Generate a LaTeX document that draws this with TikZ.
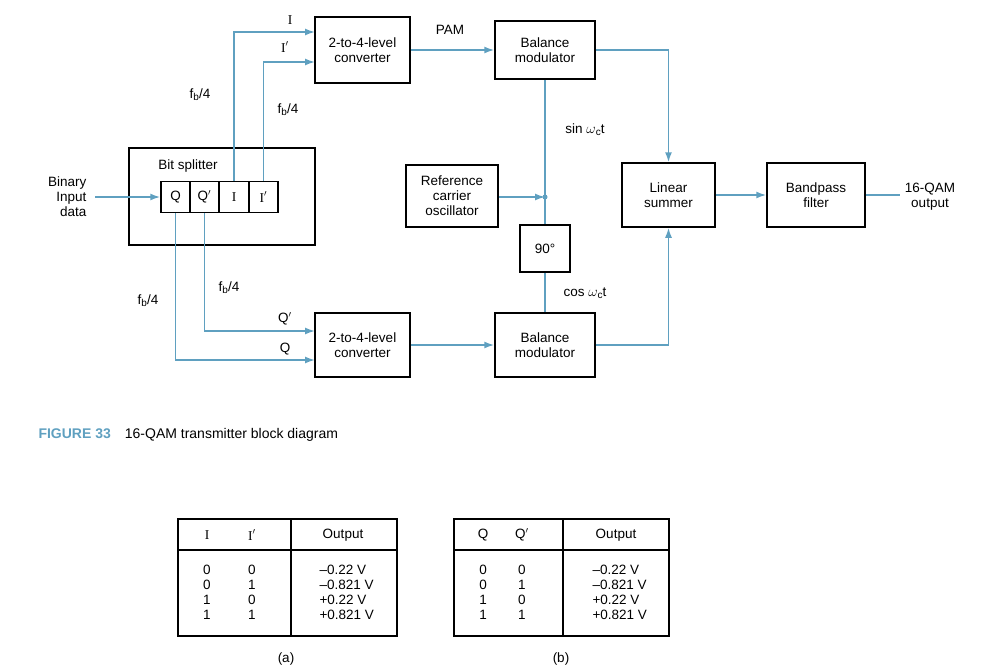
\documentclass[tikz,border=0pt]{standalone}
\usepackage{fontspec}
\setmainfont{Liberation Sans}
\newfontfamily\serf{Liberation Serif}
\usetikzlibrary{arrows.meta}
\definecolor{ln}{RGB}{95,160,192}
\definecolor{cap}{RGB}{95,160,192}
\newcommand{\sbx}[1]{\raisebox{-0.3ex}{\fontsize{10}{10}\selectfont #1}}
\begin{document}
\begin{tikzpicture}[x=1pt,y=-1pt,
  box/.style={draw,line width=1.5pt,inner sep=0pt},
  wire/.style={draw=ln,line width=1.6pt},
  arr/.style={wire,-{Latex[length=10pt,width=7pt]}},
  lbl/.style={font=\fontsize{13.5}{15}\selectfont,align=center},
  every node/.style={lbl}]
\useasboundingbox (0,0) rectangle (989,670);
% bit splitter
\draw[box] (129,148) rectangle (315,245);
\node (bs) at (188,166) {Bit splitter};
\node[box,minimum width=29pt,minimum height=31pt] (cq) at (175.5,197) {Q};
\node[box,minimum width=29pt,minimum height=31pt] (cqp) at (204.5,197) {Q$'$};
\node[box,minimum width=30pt,minimum height=31pt] (ci) at (234,197) {\serf I};
\node[box,minimum width=29pt,minimum height=31pt] (cip) at (263.5,197) {\serf I$'$};
\node[align=right,anchor=east] (bin) at (90,197) {Binary\\Input\\data};
\draw[arr] (bin.east)++(5,0) coordinate (b0) -- (cq.west);
% converters
\node[box,minimum width=95pt,minimum height=66pt] (c1) at (362.5,50) {2-to-4-level\\converter};
\node[box,minimum width=95pt,minimum height=64pt] (c2) at (362.5,345) {2-to-4-level\\converter};
\draw[arr] (ci.north) |- (315,32);
\draw[arr] (cip.north) |- (315,62);
\draw[arr] (cqp.south) |- (315,331);
\draw[arr] (cq.south) |- (315,360);
\node at (290,20) {\serf I};
\node at (285,47) {\serf I$'$};
\node at (285,319) {Q$'$};
\node at (285,349) {Q};
\node at (200,95) {f\sbx{b}/4};
\node at (288,110) {f\sbx{b}/4};
\node at (229,288) {f\sbx{b}/4};
\node at (148,301) {f\sbx{b}/4};
% modulators
\node[box,minimum width=100pt,minimum height=58pt] (m1) at (545,50) {Balance\\modulator};
\node[box,minimum width=100pt,minimum height=64pt] (m2) at (545,345) {Balance\\modulator};
\node at (450,30) {PAM};
\draw[arr] (c1.east) -- (m1.west);
\draw[arr] (c2.east) -- (m2.west);
\node[box,minimum width=92pt,minimum height=62pt] (osc) at (452,196) {Reference\\carrier\\oscillator};
\node[box,minimum width=50pt,minimum height=47pt] (ph) at (545,248.5) {90°};
\coordinate (j) at (545,197);
\draw[arr] (osc.east|-j) -- (j);
\draw[wire] (m1.south) -- (j) -- (ph.north);
\draw[wire] (ph.south) -- (m2.north);
\fill[ln] (j) circle (2.5pt);
\node at (585,130) {sin $\omega$\sbx{c}t};
\node at (585,293) {cos $\omega$\sbx{c}t};
% summer
\node[box,minimum width=93pt,minimum height=64pt] (sum) at (668.5,195) {Linear\\summer};
\draw[arr] (m1.east) -| (sum.north);
\draw[arr] (m2.east) -| (sum.south);
\node[box,minimum width=98pt,minimum height=64pt] (bp) at (816,195) {Bandpass\\filter};
\draw[arr] (sum.east) -- (bp.west);
\coordinate (o) at (900,195);
\draw[wire] (bp.east) -- (o);
\node (out) at (930,197) {16-QAM\\output};
% caption
\node[anchor=west,font=\fontsize{14}{16}\selectfont] (capt) at (35,435) {\textcolor{cap}{\textbf{FIGURE 33}}\quad 16-QAM transmitter block diagram};
% tables
\draw[line width=1.5pt] (178,519) rectangle (397,636) (178,550) -- (397,550) (291,519) -- (291,636);
\draw[line width=1.5pt] (454,519) rectangle (669,636) (454,550) -- (669,550) (563,519) -- (563,636);
\node (ta1) at (207,535) {\serf I};
\node (ta2) at (252,535) {\serf I$'$};
\node (ta3) at (343,535) {Output};
\node (tb1) at (483,535) {Q};
\node (tb2) at (522,535) {Q$'$};
\node (tb3) at (616,535) {Output};
\foreach \y/\a/\b/\v in {570/0/0/{–0.22 V},585/0/1/{–0.821 V},600/1/0/{+0.22 V},615/1/1/{+0.821 V}}{
  \node at (207,\y) {\a}; \node at (252,\y) {\b}; \node[anchor=west] at (316,\y) {\v};
  \node at (483,\y) {\a}; \node at (522,\y) {\b}; \node[anchor=west] at (589,\y) {\v};
}
\node (la) at (286,659) {(a)};
\node (lb) at (561,659) {(b)};
\end{tikzpicture}
\end{document}
